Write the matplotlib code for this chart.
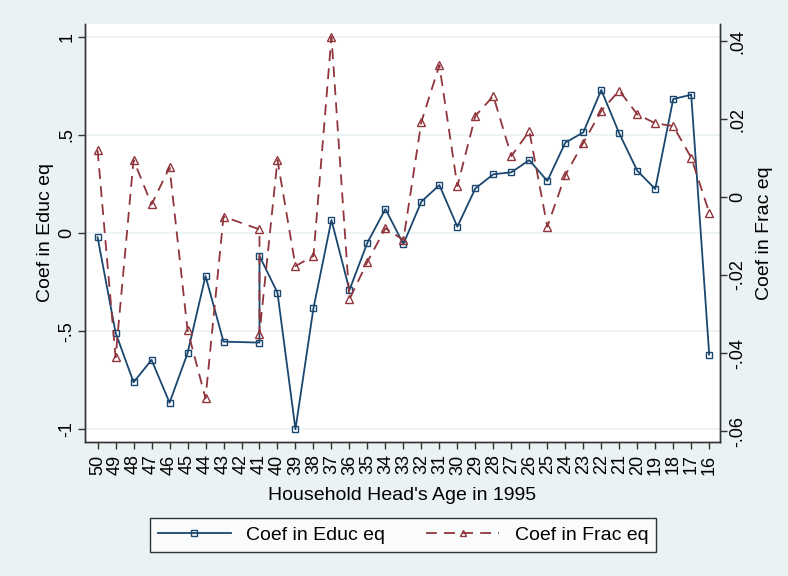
import matplotlib.pyplot as plt
import numpy as np

plt.rcParams['font.family'] = ['Liberation Sans', 'DejaVu Sans']

# Household head's age in 1995 (42 has no estimate, 41 appears twice)
ages = [50, 49, 48, 47, 46, 45, 44, 43, 41, 41, 40, 39, 38, 37, 36, 35, 34, 33,
        32, 31, 30, 29, 28, 27, 26, 25, 24, 23, 22, 21, 20, 19, 18, 17, 16]
coef_educ = [-0.022, -0.507, -0.760, -0.646, -0.864, -0.612, -0.219, -0.553,
             -0.558, -0.117, -0.304, -0.999, -0.383, 0.066, -0.290, -0.049,
             0.122, -0.056, 0.160, 0.244, 0.032, 0.227, 0.299, 0.309, 0.371,
             0.265, 0.460, 0.512, 0.728, 0.507, 0.317, 0.224, 0.682, 0.704,
             -0.619]
coef_frac = [0.0120, -0.0411, 0.0095, -0.0019, 0.0076, -0.0341, -0.0516,
             -0.0050, -0.0083, -0.0350, 0.0095, -0.0177, -0.0151, 0.0411,
             -0.0262, -0.0166, -0.0080, -0.0110, 0.0193, 0.0338, 0.0028,
             0.0208, 0.0259, 0.0105, 0.0169, -0.0076, 0.0056, 0.0139, 0.0221,
             0.0273, 0.0212, 0.0189, 0.0182, 0.0101, -0.0040]
tick_ages = list(range(50, 15, -1))

bg = '#EAF2F3'
navy = '#1a476f'
maroon = '#90353b'

fig = plt.figure(figsize=(7.88, 5.76), dpi=100, facecolor=bg)
ax = fig.add_axes([85/788, 1 - 442/576, 635/788, 418/576])
ax.set_facecolor('white')
ax2 = ax.twinx()

l1, = ax.plot(ages, coef_educ, color=navy, lw=1.3, marker='s', ms=5,
              mfc='none', mec=navy, mew=1.0, label='Coef in Educ eq')
l2, = ax2.plot(ages, coef_frac, color=maroon, lw=1.3, ls=(0, (6, 4)), marker='^',
               ms=6, mfc='none', mec=maroon, mew=1.0, label='Coef in Frac eq')

ax.set_xlim(50.7, 15.4)
ax.set_ylim(-1.064, 1.064)
ax2.set_ylim(-0.0628, 0.04436)

ax.set_xticks(tick_ages)
ax.set_xticklabels([str(a) for a in tick_ages], rotation=90, fontsize=13)
ax.set_yticks([-1, -0.5, 0, 0.5, 1])
ax.set_yticklabels(['-1', '-.5', '0', '.5', '1'], rotation=90, va='center', fontsize=13)
ax2.set_yticks([-0.06, -0.04, -0.02, 0, 0.02, 0.04])
ax2.set_yticklabels(['-.06', '-.04', '-.02', '0', '.02', '.04'], rotation=90,
                    va='center', fontsize=13)

ax.grid(axis='y', color=bg, lw=1.2)
ax.set_axisbelow(True)
for a in (ax, ax2):
    a.spines['top'].set_visible(False)
    for s in ('left', 'right', 'bottom'):
        a.spines[s].set_color('#333333')
        a.spines[s].set_linewidth(1.0)
    a.tick_params(length=5, width=1.0, color='#333333', pad=2)
ax.tick_params(axis='x', pad=4)

ax.set_xlabel("Household Head's Age in 1995", fontsize=14, labelpad=9)
ax.set_ylabel('Coef in Educ eq', fontsize=14, labelpad=3)
ax2.set_ylabel('Coef in Frac eq', fontsize=14, rotation=90, labelpad=7)

leg = fig.legend(handles=[l1, l2], loc='center', bbox_to_anchor=(403/788, 1 - 535/576),
                 ncol=2, fontsize=14, frameon=True, fancybox=False,
                 edgecolor='black', handlelength=3.75, handletextpad=0.8,
                 columnspacing=2.1, markerscale=0.8, borderpad=0.4)
leg.get_frame().set_linewidth(1.0)
leg.get_frame().set_facecolor('white')

fig.savefig('out.png', dpi=100, facecolor=bg)
